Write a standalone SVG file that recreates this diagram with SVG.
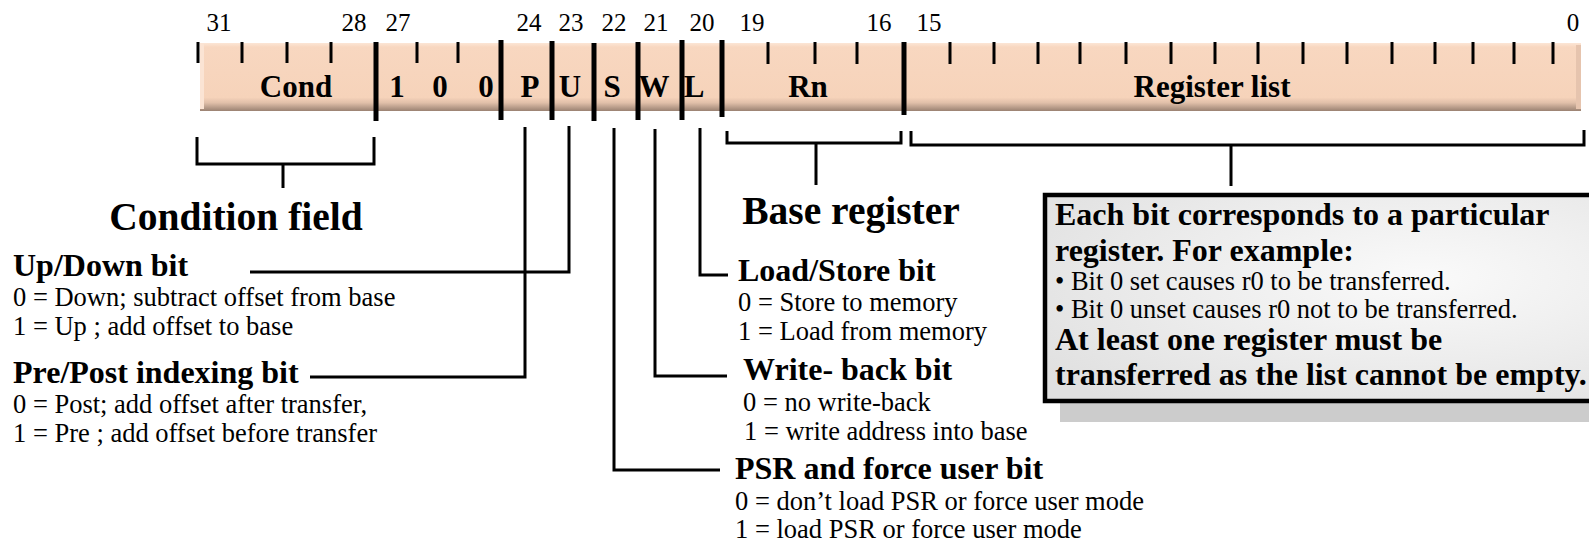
<svg xmlns="http://www.w3.org/2000/svg" width="1589" height="543" viewBox="0 0 1589 543">
<defs>
<linearGradient id="barFill" x1="0" y1="0" x2="0" y2="1">
<stop offset="0" stop-color="#FCE6D6"/>
<stop offset="0.06" stop-color="#F8D7C0"/>
<stop offset="0.80" stop-color="#F6D3BA"/>
<stop offset="0.88" stop-color="#E0BFA9"/>
<stop offset="1" stop-color="#9A8272"/>
</linearGradient>
<radialGradient id="boxFill" cx="0.65" cy="0.4" r="0.8">
<stop offset="0" stop-color="#FAFAFA"/>
<stop offset="1" stop-color="#E0E0E0"/>
</radialGradient>
</defs>
<style>
text{font-family:"Liberation Serif","Times New Roman",serif;fill:#000}
.num{font-size:25px;text-anchor:middle}
.fld{font-size:31px;font-weight:bold;text-anchor:middle}
.big{font-size:39.5px;font-weight:bold;text-anchor:middle}
.hd{font-size:32px;font-weight:bold}
.bd{font-size:26.5px}
.div{stroke:#000;stroke-width:5}
.tick{stroke:#000;stroke-width:3}
.ln{fill:none;stroke:#000;stroke-width:3}
</style>

<g id="instruction-word">
<rect x="200" y="43" width="1381" height="68" fill="url(#barFill)"/>
<rect x="200" y="43" width="4" height="66" fill="#FBE4D4"/>
<rect x="1576" y="45" width="5" height="64" fill="#E6C4AE"/>
<g id="ticks">
<line class="tick" x1="198" y1="42" x2="198" y2="63"/>
<line class="tick" x1="242" y1="42" x2="242" y2="63"/>
<line class="tick" x1="287" y1="42" x2="287" y2="63"/>
<line class="tick" x1="331" y1="42" x2="331" y2="63"/>
<line class="tick" x1="417" y1="42" x2="417" y2="63"/>
<line class="tick" x1="458" y1="42" x2="458" y2="63"/>
<line class="tick" x1="768" y1="42" x2="768" y2="64"/>
<line class="tick" x1="815" y1="42" x2="815" y2="64"/>
<line class="tick" x1="857" y1="42" x2="857" y2="64"/>
<line class="tick" x1="950" y1="42" x2="950" y2="64"/>
<line class="tick" x1="994" y1="42" x2="994" y2="64"/>
<line class="tick" x1="1038" y1="42" x2="1038" y2="64"/>
<line class="tick" x1="1080" y1="42" x2="1080" y2="64"/>
<line class="tick" x1="1126" y1="42" x2="1126" y2="64"/>
<line class="tick" x1="1171" y1="42" x2="1171" y2="64"/>
<line class="tick" x1="1215" y1="42" x2="1215" y2="64"/>
<line class="tick" x1="1258" y1="42" x2="1258" y2="64"/>
<line class="tick" x1="1303" y1="42" x2="1303" y2="64"/>
<line class="tick" x1="1347" y1="42" x2="1347" y2="64"/>
<line class="tick" x1="1392" y1="42" x2="1392" y2="64"/>
<line class="tick" x1="1435" y1="42" x2="1435" y2="64"/>
<line class="tick" x1="1473" y1="42" x2="1473" y2="64"/>
<line class="tick" x1="1514" y1="42" x2="1514" y2="64"/>
<line class="tick" x1="1553" y1="42" x2="1553" y2="64"/>
</g>
<g id="dividers">
<line class="div" x1="376" y1="42" x2="376" y2="121"/>
<line class="div" x1="501" y1="40" x2="501" y2="120"/>
<line class="div" x1="552" y1="41" x2="552" y2="120"/>
<line class="div" x1="594" y1="43" x2="594" y2="121"/>
<line class="div" x1="638" y1="42" x2="638" y2="120"/>
<line class="div" x1="682" y1="40" x2="682" y2="120"/>
<line class="div" x1="722" y1="40" x2="722" y2="117"/>
<line class="div" x1="904" y1="42" x2="904" y2="115"/>
</g>
<g id="bit-numbers">
<text class="num" x="219" y="31">31</text>
<text class="num" x="354" y="31">28</text>
<text class="num" x="398" y="31">27</text>
<text class="num" x="529" y="31">24</text>
<text class="num" x="571" y="31">23</text>
<text class="num" x="614" y="31">22</text>
<text class="num" x="656" y="31">21</text>
<text class="num" x="702" y="31">20</text>
<text class="num" x="752" y="31">19</text>
<text class="num" x="879" y="31">16</text>
<text class="num" x="929" y="31">15</text>
<text class="num" x="1573" y="31">0</text>
</g>
</g>

<g id="field-cond"><text class="fld" x="296" y="97">Cond</text></g>
<g id="field-100">
<text class="fld" x="397" y="97">1</text>
<text class="fld" x="440" y="97">0</text>
<text class="fld" x="486" y="97">0</text>
</g>
<g id="field-P"><text class="fld" x="530" y="97">P</text></g>
<g id="field-U"><text class="fld" x="570" y="97">U</text></g>
<g id="field-S"><text class="fld" x="612" y="97">S</text></g>
<g id="field-W"><text class="fld" x="654" y="97">W</text></g>
<g id="field-L"><text class="fld" x="694" y="97">L</text></g>
<g id="field-Rn"><text class="fld" x="808" y="97">Rn</text></g>
<g id="field-reglist"><text class="fld" x="1212" y="97">Register list</text></g>

<g id="connectors">
<path class="ln" d="M197,137 V164 H374 V137 M283,164 V188"/>
<path class="ln" d="M727,131 V143 H901 V131 M816,143 V185"/>
<path class="ln" d="M911,131 V145 H1584 V130 M1231,145 V186"/>
<path class="ln" d="M250,272 H569 V126"/>
<path class="ln" d="M310,377 H525 V127"/>
<path class="ln" d="M614,128 V470 H720"/>
<path class="ln" d="M655,129 V376 H727" stroke-width="2.5"/>
<path class="ln" d="M700,128 V275 H728"/>
</g>

<g id="label-condition-field"><text class="big" x="236" y="230">Condition field</text></g>
<g id="label-base-register"><text class="big" x="851" y="224">Base register</text></g>

<g id="label-updown">
<text class="hd" x="13" y="276">Up/Down bit</text>
<text class="bd" x="13" y="306">0 = Down; subtract offset from base</text>
<text class="bd" x="13" y="335">1 = Up ; add offset to base</text>
</g>
<g id="label-prepost">
<text class="hd" x="13" y="383">Pre/Post indexing bit</text>
<text class="bd" x="13" y="413">0 = Post; add offset after transfer,</text>
<text class="bd" x="13" y="442">1 = Pre ; add offset before transfer</text>
</g>
<g id="label-loadstore">
<text class="hd" x="738" y="281">Load/Store bit</text>
<text class="bd" x="738" y="311">0 = Store to memory</text>
<text class="bd" x="738" y="340">1 = Load from memory</text>
</g>
<g id="label-writeback">
<text class="hd" x="743" y="380">Write- back bit</text>
<text class="bd" x="743" y="411">0 = no write-back</text>
<text class="bd" x="744" y="440">1 = write address into base</text>
</g>
<g id="label-psr">
<text class="hd" x="735" y="479">PSR and force user bit</text>
<text class="bd" x="735" y="510">0 = don’t load PSR or force user mode</text>
<text class="bd" x="735" y="538">1 = load PSR or force user mode</text>
</g>

<g id="register-list-note">
<rect x="1060" y="215" width="560" height="207" fill="#CCCCCC"/>
<rect x="1045" y="195" width="580" height="206" fill="url(#boxFill)" stroke="#000" stroke-width="4.5"/>
<text class="hd" x="1055" y="225">Each bit corresponds to a particular</text>
<text class="hd" x="1055" y="261">register. For example:</text>
<text class="bd" x="1055" y="290">• Bit 0 set causes r0 to be transferred.</text>
<text class="bd" x="1055" y="318">• Bit 0 unset causes r0 not to be transferred.</text>
<text class="hd" x="1055" y="350">At least one register must be</text>
<text class="hd" x="1055" y="385">transferred as the list cannot be empty.</text>
</g>
</svg>
